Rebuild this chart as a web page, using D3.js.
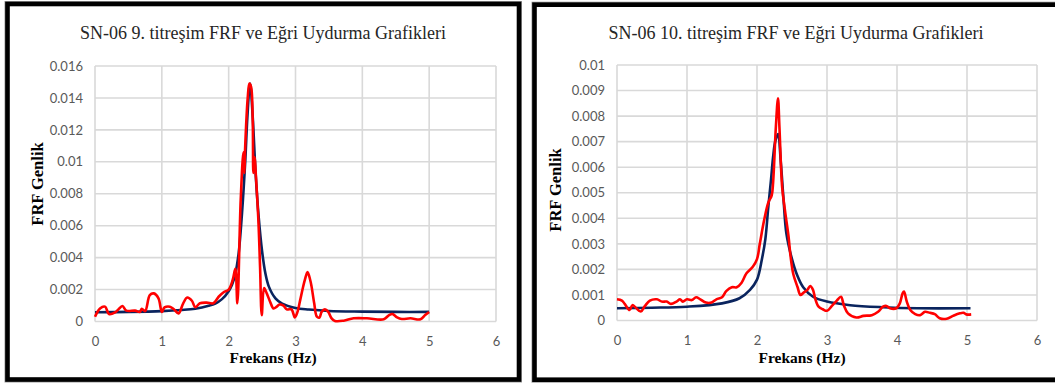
<!DOCTYPE html>
<html>
<head>
<meta charset="utf-8">
<script src="https://cdn.jsdelivr.net/npm/d3@7"></script>
<style>
  html, body { margin: 0; padding: 0; background: #fff; }
  svg { display: block; }
  .serif { font-family: "Liberation Serif", "Times New Roman", "DejaVu Serif", serif; }
  .tick text { font-family: Lato, "Open Sans", sans-serif; }
</style>
</head>
<body>
<svg id="chart" width="1055" height="385"></svg>
<script>
// Frequency axis ticks (Hz)
const xTicks = [0, 1, 2, 3, 4, 5, 6];

// Amplitude axis ticks for each test
const yTicks9 = [0, 0.002, 0.004, 0.006, 0.008, 0.01, 0.012, 0.014, 0.016];
const yTicks10 = [0, 0.001, 0.002, 0.003, 0.004, 0.005, 0.006, 0.007, 0.008, 0.009, 0.01];

const titles = [
  "SN-06 9. titreşim FRF ve Eğri Uydurma Grafikleri",
  "SN-06 10. titreşim FRF ve Eğri Uydurma Grafikleri"
];
const xTitle = "Frekans (Hz)";
const yTitle = "FRF Genlik";

// Test 9: measured FRF [Hz, amplitude]
const frf9 = [
  [0.00, 0.00030], [0.075, 0.00082], [0.15, 0.00093], [0.21, 0.00047], [0.30, 0.00057],
  [0.35, 0.00076], [0.41, 0.00097], [0.47, 0.00068], [0.60, 0.00068], [0.67, 0.00060],
  [0.70, 0.00080], [0.75, 0.00065], [0.82, 0.00165], [0.88, 0.00176], [0.95, 0.00145],
  [1.00, 0.00060], [1.04, 0.00088], [1.12, 0.00093], [1.18, 0.00077], [1.25, 0.00051],
  [1.32, 0.00114], [1.38, 0.00150], [1.45, 0.00130], [1.50, 0.00089], [1.57, 0.00114],
  [1.67, 0.00118], [1.77, 0.00114], [1.85, 0.00155], [1.92, 0.00182], [2.00, 0.00200],
  [2.06, 0.00260], [2.10, 0.00330], [2.13, 0.00114], [2.18, 0.00760], [2.22, 0.01060],
  [2.235, 0.00930], [2.245, 0.01070], [2.285, 0.01400], [2.31, 0.01490], [2.335, 0.01470],
  [2.36, 0.01260], [2.37, 0.00930], [2.39, 0.01030], [2.405, 0.00930], [2.445, 0.00630],
  [2.47, 0.00340], [2.495, 0.00040], [2.53, 0.00210], [2.57, 0.00176], [2.62, 0.00124],
  [2.67, 0.00082], [2.72, 0.00093], [2.76, 0.00107], [2.82, 0.00099], [2.87, 0.00076],
  [2.94, 0.00076], [2.99, 0.00026], [3.03, 0.00060], [3.07, 0.00134], [3.11, 0.00210],
  [3.14, 0.00260], [3.18, 0.00310], [3.22, 0.00260], [3.24, 0.00220], [3.28, 0.00114],
  [3.32, 0.00030], [3.36, 0.00025], [3.39, 0.00060], [3.44, 0.00076], [3.49, 0.00060],
  [3.54, 0.00020], [3.59, 0.00003], [3.72, 0.00005], [3.87, 0.00020], [4.07, 0.00020],
  [4.32, 0.00014], [4.40, 0.00040], [4.45, 0.00047], [4.52, 0.00026], [4.59, 0.00016],
  [4.72, 0.00020], [4.87, 0.00014], [4.94, 0.00040], [5.00, 0.00060]
];

// Test 9: fitted curve
const fit9 = [
  [0.00, 0.00058], [0.50, 0.00060], [1.00, 0.00065], [1.30, 0.00072], [1.50, 0.00080],
  [1.70, 0.00098], [1.80, 0.00112], [1.90, 0.00140], [2.00, 0.00190], [2.05, 0.00230],
  [2.10, 0.00300], [2.15, 0.00430], [2.20, 0.00680], [2.25, 0.01020], [2.28, 0.01280],
  [2.32, 0.01490], [2.36, 0.01280], [2.40, 0.00950], [2.45, 0.00650], [2.50, 0.00440],
  [2.55, 0.00300], [2.60, 0.00220], [2.70, 0.00145], [2.80, 0.00112], [3.00, 0.00085],
  [3.20, 0.00075], [3.50, 0.00066], [4.00, 0.00062], [4.50, 0.00060], [5.00, 0.00060]
];

// Test 10: measured FRF [Hz, amplitude]
const frf10 = [
  [0.00, 0.00083], [0.07, 0.00078], [0.11, 0.00065], [0.18, 0.00041], [0.22, 0.00060],
  [0.27, 0.00050], [0.34, 0.00035], [0.40, 0.00057], [0.47, 0.00078], [0.57, 0.00083],
  [0.64, 0.00074], [0.71, 0.00074], [0.77, 0.00065], [0.85, 0.00074], [0.90, 0.00083],
  [0.94, 0.00074], [1.00, 0.00083], [1.07, 0.00080], [1.13, 0.00091], [1.19, 0.00083],
  [1.27, 0.00070], [1.35, 0.00070], [1.42, 0.00083], [1.50, 0.00091], [1.56, 0.00115],
  [1.64, 0.00130], [1.71, 0.00130], [1.78, 0.00148], [1.85, 0.00185], [1.94, 0.00210],
  [2.00, 0.00240], [2.04, 0.00300], [2.10, 0.00390], [2.16, 0.00460], [2.21, 0.00490],
  [2.23, 0.00540], [2.27, 0.00760], [2.30, 0.00870], [2.32, 0.00760], [2.36, 0.00520],
  [2.40, 0.00430], [2.45, 0.00330], [2.48, 0.00250], [2.52, 0.00180], [2.58, 0.00130],
  [2.62, 0.00100], [2.67, 0.00110], [2.72, 0.00120], [2.76, 0.00135], [2.80, 0.00120],
  [2.83, 0.00087], [2.88, 0.00054], [2.94, 0.00044], [3.00, 0.00038], [3.07, 0.00057],
  [3.14, 0.00078], [3.20, 0.00093], [3.24, 0.00060], [3.30, 0.00028], [3.42, 0.00012],
  [3.52, 0.00018], [3.64, 0.00021], [3.73, 0.00034], [3.80, 0.00054], [3.85, 0.00057],
  [3.90, 0.00048], [3.99, 0.00048], [4.04, 0.00067], [4.08, 0.00106], [4.10, 0.00113],
  [4.14, 0.00074], [4.19, 0.00041], [4.26, 0.00025], [4.33, 0.00021], [4.40, 0.00034],
  [4.47, 0.00030], [4.54, 0.00025], [4.61, 0.00009], [4.71, 0.00007], [4.80, 0.00018],
  [4.90, 0.00028], [4.95, 0.00030], [4.99, 0.00024], [5.06, 0.00024]
];

// Test 10: fitted curve
const fit10 = [
  [0.00, 0.00048], [0.50, 0.00050], [1.00, 0.00054], [1.50, 0.00067], [1.75, 0.00087],
  [1.90, 0.00120], [2.00, 0.00160], [2.07, 0.00240], [2.12, 0.00320], [2.16, 0.00440],
  [2.20, 0.00550], [2.23, 0.00640], [2.26, 0.00700], [2.30, 0.00730], [2.34, 0.00620],
  [2.38, 0.00470], [2.42, 0.00340], [2.50, 0.00240], [2.57, 0.00180], [2.66, 0.00130],
  [2.80, 0.00093], [3.00, 0.00074], [3.33, 0.00060], [3.80, 0.00052], [4.30, 0.00048],
  [5.05, 0.00048]
];

const panels = [
  {
    frame: { x: 7.5, y: 4, w: 511.5, h: 375.5 },
    plot: { left: 95, right: 496, top: 66, bottom: 321.5 },
    title: titles[0], titleX: 263,
    yTicks: yTicks9, yMax: 0.016,
    yTitleX: 43, yTitleY: 184, xTitleX: 273,
    frf: frf9, fit: fit9
  },
  {
    frame: { x: 534.5, y: 4.7, w: 530, h: 375 },
    plot: { left: 617, right: 1037, top: 65, bottom: 320.5 },
    title: titles[1], titleX: 796,
    yTicks: yTicks10, yMax: 0.01,
    yTitleX: 561, yTitleY: 190, xTitleX: 802,
    frf: frf10, fit: fit10
  }
];

const svg = d3.select("#chart");
const fmt = v => v === 0 ? "0" : String(+v.toFixed(4));

panels.forEach(p => {
  const g = svg.append("g");

  // outer frame
  g.append("rect")
    .attr("x", p.frame.x).attr("y", p.frame.y)
    .attr("width", p.frame.w).attr("height", p.frame.h)
    .attr("fill", "#fff").attr("stroke", "#9a9a9a").attr("stroke-width", 6);
  g.append("rect")
    .attr("x", p.frame.x).attr("y", p.frame.y)
    .attr("width", p.frame.w).attr("height", p.frame.h)
    .attr("fill", "#fff").attr("stroke", "#000").attr("stroke-width", 4.6);

  const x = d3.scaleLinear().domain([0, 6]).range([p.plot.left, p.plot.right]);
  const y = d3.scaleLinear().domain([0, p.yMax]).range([p.plot.bottom, p.plot.top]);

  // gridlines
  const grid = g.append("g").attr("stroke", "#d9d9d9").attr("stroke-width", 1.6);
  grid.selectAll("line.h").data(p.yTicks).join("line").attr("class", "h")
    .attr("x1", p.plot.left).attr("x2", p.plot.right)
    .attr("y1", d => y(d)).attr("y2", d => y(d));
  grid.selectAll("line.v").data(xTicks).join("line").attr("class", "v")
    .attr("x1", d => x(d)).attr("x2", d => x(d))
    .attr("y1", p.plot.top).attr("y2", p.plot.bottom);

  // axes (labels only)
  const xAxis = g.append("g")
    .attr("transform", `translate(0,${p.plot.bottom})`)
    .call(d3.axisBottom(x).tickValues(xTicks).tickSize(0).tickPadding(15).tickFormat(d3.format("d")));
  const yAxis = g.append("g")
    .attr("transform", `translate(${p.plot.left},0)`)
    .call(d3.axisLeft(y).tickValues(p.yTicks).tickSize(0).tickPadding(12).tickFormat(fmt));
  [xAxis, yAxis].forEach(a => {
    a.select(".domain").remove();
    a.attr("font-family", null).attr("font-size", null);
    a.selectAll("text").attr("fill", "#595959").style("font-size", "13px");
  });

  // series
  const line = d3.line().x(d => x(d[0])).y(d => y(d[1])).curve(d3.curveCatmullRom.alpha(0.5));
  g.append("path").datum(p.fit).attr("d", line)
    .attr("fill", "none").attr("stroke", "#0a245e").attr("stroke-width", 2.6)
    .attr("stroke-linejoin", "round");
  g.append("path").datum(p.frf).attr("d", line)
    .attr("fill", "none").attr("stroke", "#ff0000").attr("stroke-width", 2.6)
    .attr("stroke-linejoin", "round");

  // titles
  g.append("text").attr("class", "serif").text(p.title)
    .attr("x", p.titleX).attr("y", 39).attr("text-anchor", "middle")
    .attr("fill", "#262626")
    .style("font-size", "18px");
  g.append("text").attr("class", "serif").text(xTitle)
    .attr("x", p.xTitleX).attr("y", 363).attr("text-anchor", "middle")
    .attr("fill", "#000").attr("font-weight", "bold")
    .style("font-size", "15.5px");
  g.append("text").attr("class", "serif").text(yTitle)
    .attr("transform", `translate(${p.yTitleX},${p.yTitleY}) rotate(-90)`)
    .attr("text-anchor", "middle")
    .attr("fill", "#000").attr("font-weight", "bold")
    .style("font-size", "16.5px");
});
</script>
</body>
</html>
